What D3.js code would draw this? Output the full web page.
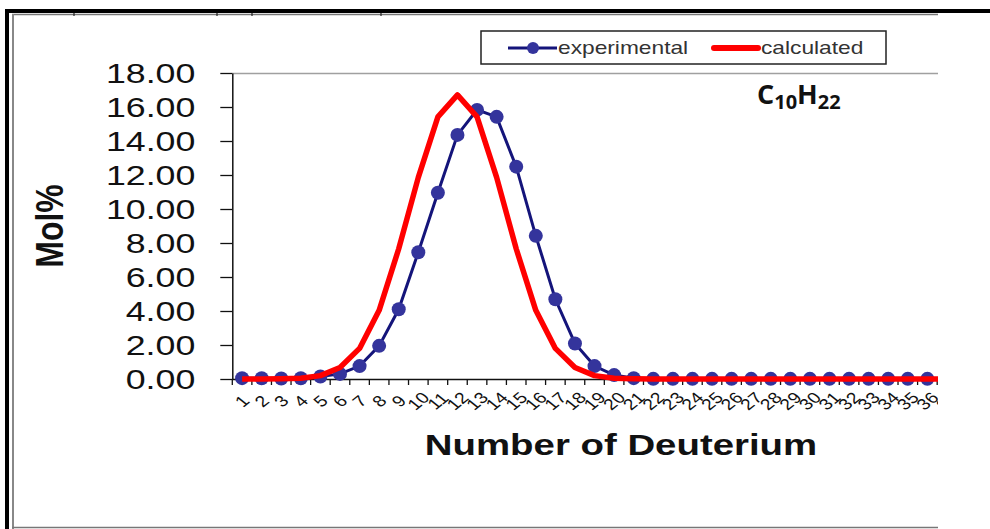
<!DOCTYPE html>
<html>
<head>
<meta charset="utf-8">
<script src="https://cdn.jsdelivr.net/npm/d3@7"></script>
<style>
  body { margin: 0; background: #fff; }
  svg { display: block; font-family: "Liberation Sans", Arial, sans-serif; }
</style>
</head>
<body>
<div id="chart"></div>
<script>
const CATEGORIES = [
  '1', '2', '3', '4', '5', '6', '7', '8', '9', '10',
  '11', '12', '13', '14', '15', '16', '17', '18', '19', '20',
  '21', '22', '23', '24', '25', '26', '27', '28', '29', '30',
  '31', '32', '33', '34', '35', '36', '37'
];

const EXPERIMENTAL = [
  0.05, 0.04, 0.03, 0.04, 0.15, 0.30, 0.76, 1.95, 4.10, 7.46,
  10.96, 14.36, 15.83, 15.42, 12.49, 8.42, 4.69, 2.09, 0.76, 0.23,
  0.05, 0.01, 0.01, 0.01, 0.01, 0.01, 0.01, 0.01, 0.01, 0.01,
  0.01, 0.01, 0.01, 0.01, 0.01, 0.01, 0.01
];

const CALCULATED = [
  0.00, 0.00, 0.01, 0.04, 0.20, 0.68, 1.80, 4.04, 7.66, 11.86,
  15.42, 16.71, 15.42, 11.86, 7.66, 4.04, 1.80, 0.68, 0.20, 0.04,
  0.01, 0.00, 0.00, 0.00, 0.00, 0.00, 0.00, 0.00, 0.00, 0.00,
  0.00, 0.00, 0.00, 0.00, 0.00, 0.00, 0.00
];

const Y_TICKS = [0, 2, 4, 6, 8, 10, 12, 14, 16, 18];

const SERIES_NAMES = ['experimental', 'calculated'];

const BLUE_LINE = '#14147a';
const BLUE_DOT = '#34349c';
const RED = '#ff0000';

const w = 990, h = 529;
const plot = { left: 232.3, top: 73, bottom: 379, right: 938, band: 19.58 };

const svg = d3.select('#chart').append('svg')
  .attr('width', w).attr('height', h)
  .attr('viewBox', `0 0 ${w} ${h}`);

// outer frame (cropped figure border)
svg.append('rect').attr('x', 5).attr('y', 9).attr('width', w - 5).attr('height', 4).attr('fill', '#000');
svg.append('rect').attr('x', 5).attr('y', 9).attr('width', 4).attr('height', h - 9).attr('fill', '#000');
svg.append('line').attr('x1', 12).attr('x2', plot.right).attr('y1', 14.5).attr('y2', 14.5)
  .attr('stroke', '#777').attr('stroke-width', 1.5);
svg.append('line').attr('x1', 13).attr('x2', 13).attr('y1', 14).attr('y2', h)
  .attr('stroke', '#888').attr('stroke-width', 2);
svg.append('line').attr('x1', 12).attr('x2', plot.right).attr('y1', 527.5).attr('y2', 527.5)
  .attr('stroke', '#777').attr('stroke-width', 1.5);
[74, 217, 252, 381].forEach(px => {
  svg.append('line').attr('x1', px).attr('x2', px).attr('y1', 13).attr('y2', 16)
    .attr('stroke', '#222').attr('stroke-width', 1.2);
});

svg.append('defs').append('clipPath').attr('id', 'clip')
  .append('rect').attr('x', 0).attr('y', 0).attr('width', plot.right).attr('height', h);

const x = d3.scaleBand()
  .domain(CATEGORIES)
  .range([plot.left, plot.left + CATEGORIES.length * plot.band])
  .padding(0);

const y = d3.scaleLinear()
  .domain([0, 18])
  .range([plot.bottom, plot.top]);

const cx = c => x(c) + x.bandwidth() / 2;

// plot area top border
svg.append('line')
  .attr('x1', plot.left).attr('x2', plot.right)
  .attr('y1', y(18) + 0.5).attr('y2', y(18) + 0.5)
  .attr('stroke', '#a0a0a0').attr('stroke-width', 1.5);

// y axis
const yAxis = svg.append('g')
  .attr('transform', `translate(${plot.left},0)`)
  .call(d3.axisLeft(y).tickValues(Y_TICKS).tickSize(12).tickSizeOuter(0)
    .tickFormat(d3.format('.2f')));
yAxis.select('.domain').attr('stroke', '#111').attr('stroke-width', 1.5);
yAxis.selectAll('.tick line').attr('stroke', '#111').attr('stroke-width', 1.3);
yAxis.selectAll('.tick text')
  .attr('x', 0).attr('dy', '0.36em')
  .attr('transform', 'translate(-37,0) scale(1.3,1)')
  .attr('text-anchor', 'end')
  .attr('font-size', 27.5)
  .attr('font-family', '"Liberation Sans", Arial, sans-serif')
  .attr('fill', '#111');

// x axis (clipped at the cropped right edge)
const xg = svg.append('g').attr('clip-path', 'url(#clip)');
const xAxis = xg.append('g')
  .attr('transform', `translate(0,${plot.bottom})`)
  .call(d3.axisBottom(x).tickSize(0).tickSizeOuter(0));
xAxis.select('.domain').attr('stroke', '#111').attr('stroke-width', 1.5);
xAxis.selectAll('.tick text')
  .attr('y', 0).attr('dy', '0.35em')
  .attr('transform', 'translate(0,22) scale(1.25,1) rotate(-45)')
  .attr('text-anchor', 'middle')
  .attr('font-size', 15.5)
  .attr('font-family', '"Liberation Sans", Arial, sans-serif')
  .attr('fill', '#111');
xAxis.selectAll('.edge')
  .data(CATEGORIES.concat(['end']))
  .join('line')
  .attr('class', 'edge')
  .attr('x1', (d, i) => plot.left + i * x.step())
  .attr('x2', (d, i) => plot.left + i * x.step())
  .attr('y1', 0).attr('y2', 6)
  .attr('stroke', '#111').attr('stroke-width', 1.3);

// series
const marks = svg.append('g').attr('clip-path', 'url(#clip)');
const expData = CATEGORIES.map((c, i) => ({ c, v: EXPERIMENTAL[i] }));
const calcData = CATEGORIES.map((c, i) => ({ c, v: CALCULATED[i] }));
const line = d3.line().x(d => cx(d.c)).y(d => y(d.v));

marks.append('path')
  .datum(expData)
  .attr('d', line)
  .attr('fill', 'none')
  .attr('stroke', BLUE_LINE)
  .attr('stroke-width', 3);

marks.selectAll('.dot')
  .data(expData)
  .join('circle')
  .attr('class', 'dot')
  .attr('cx', d => cx(d.c))
  .attr('cy', d => y(d.v))
  .attr('r', 7)
  .attr('fill', BLUE_DOT);

marks.append('path')
  .datum(calcData)
  .attr('d', line)
  .attr('fill', 'none')
  .attr('stroke', RED)
  .attr('stroke-width', 5.5)
  .attr('stroke-linejoin', 'round');

// axis titles
svg.append('text')
  .attr('transform', 'translate(49,226) scale(1.2,1) rotate(-90)')
  .attr('text-anchor', 'middle')
  .attr('dominant-baseline', 'central')
  .attr('font-size', 32)
  .attr('font-weight', 'bold')
  .attr('fill', '#111')
  .text('Mol%');

svg.append('text')
  .attr('transform', 'translate(621,455) scale(1.28,1)')
  .attr('text-anchor', 'middle')
  .attr('font-size', 30)
  .attr('font-weight', 'bold')
  .attr('fill', '#111')
  .text('Number of Deuterium');

// formula label
const formula = svg.append('text')
  .attr('x', 757).attr('y', 104)
  .attr('font-family', '"Open Sans", "Noto Sans", sans-serif')
  .attr('font-weight', 'bold')
  .attr('font-size', 27)
  .attr('fill', '#111');
formula.append('tspan').text('C');
formula.append('tspan').attr('font-size', 20).attr('dy', 5).text('10');
formula.append('tspan').attr('dy', -5).text('H');
formula.append('tspan').attr('font-size', 20).attr('dy', 5).text('22');

// legend
const legend = svg.append('g');
legend.append('rect')
  .attr('x', 481).attr('y', 31).attr('width', 405).attr('height', 33)
  .attr('fill', '#fff').attr('stroke', '#222').attr('stroke-width', 1.5);

legend.append('line')
  .attr('x1', 508).attr('x2', 557).attr('y1', 48).attr('y2', 48)
  .attr('stroke', BLUE_LINE).attr('stroke-width', 3);
legend.append('circle')
  .attr('cx', 533).attr('cy', 48).attr('r', 6).attr('fill', BLUE_DOT);
legend.append('text')
  .attr('transform', 'translate(558,54) scale(1.3,1)')
  .attr('font-size', 17.5).attr('fill', '#333')
  .text(SERIES_NAMES[0]);

legend.append('line')
  .attr('x1', 714).attr('x2', 758).attr('y1', 48).attr('y2', 48)
  .attr('stroke', RED).attr('stroke-width', 6).attr('stroke-linecap', 'round');
legend.append('text')
  .attr('transform', 'translate(761,54) scale(1.3,1)')
  .attr('font-size', 17.5).attr('fill', '#333')
  .text(SERIES_NAMES[1]);
</script>
</body>
</html>
